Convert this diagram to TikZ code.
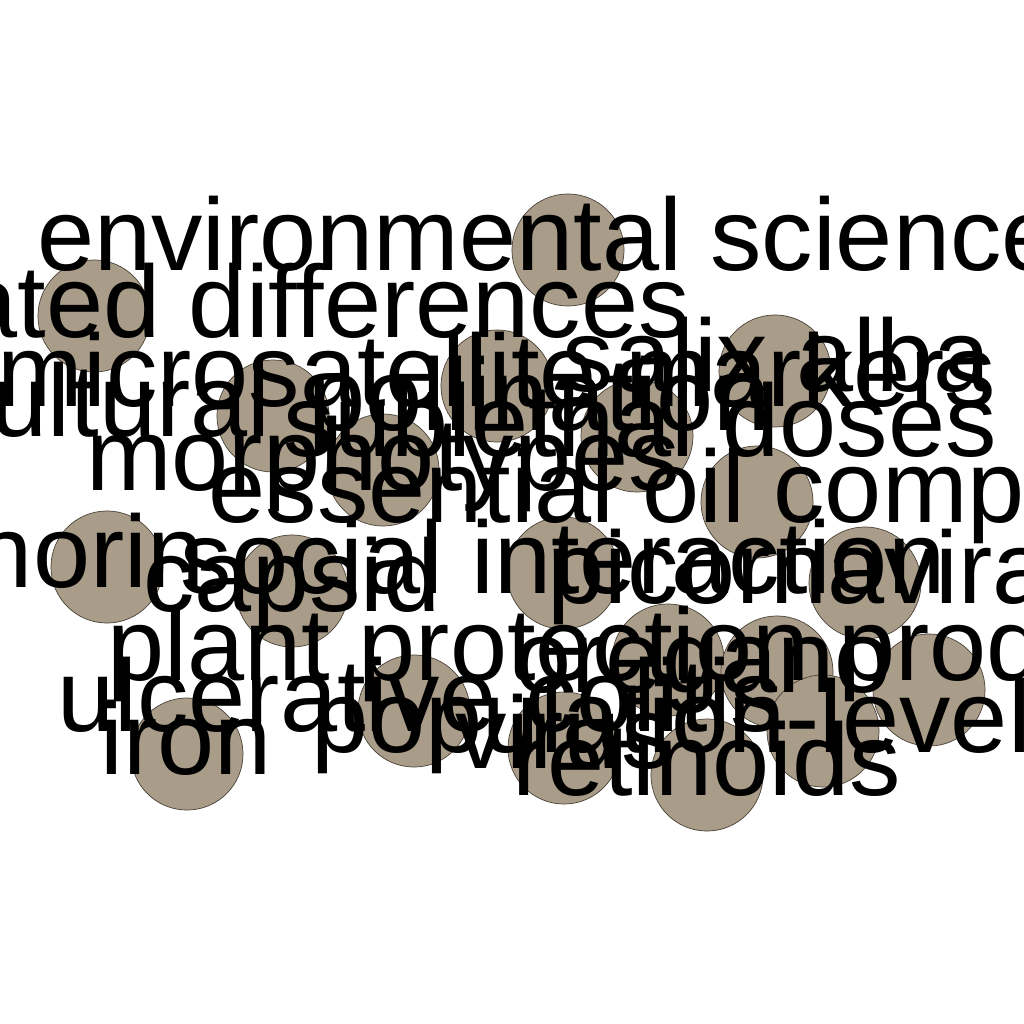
\documentclass[tikz,border=0pt]{standalone}
\usepackage{fontspec}
\setmainfont{Liberation Sans}
\begin{document}
\begin{tikzpicture}[x=0.01cm, y=-0.01cm]
    % Define colours
    \definecolor{termFill}{HTML}{A99C88}
    \definecolor{termBorder}{HTML}{4A4238}

    \tikzset{
        term/.style={circle, fill=termFill, draw=termBorder, line width=0.2pt, minimum size=1.12cm, inner sep=0pt},
        termlabel/.style={font=\fontsize{29.2pt}{30pt}\selectfont, inner sep=0pt, anchor=base}
    }

    % Fix the canvas
    \useasboundingbox (0,0) rectangle (1024,1024);
    \clip (0,0) rectangle (1024,1024);

    % Draw term circles
    \foreach \n/\cx/\cy in {1/568/250, 2/94/316, 3/497/386, 4/775/371, 5/273/416,
        6/383/470, 7/637/436, 8/757/502, 9/107/567, 10/292/591, 11/563/573,
        12/865/583, 13/668/660, 14/777/672, 15/929/690, 16/414/711, 17/187/754,
        18/564/748, 19/707/775, 20/823/731}
        \node[term] (t\n) at (\cx,\cy) {};

    % Draw term labels
    \node[termlabel] (l1) at (548,270) {environmental science};
    \node[termlabel, anchor=base west] (l2) at (-40,337) {ated differences};
    \node[termlabel] (l3) at (497,406) {microsatellite markers};
    \node[termlabel] (l4) at (777,391) {salix alba};
    \node[termlabel, anchor=base west] (l5) at (-10,436) {ultural};
    \node[termlabel] (l6) at (383,490) {morphotypes};
    \node[termlabel] (l7) at (640,456) {sublethal doses};
    \node[termlabel] (lp) at (540,430) {pollination};
    \node[termlabel, anchor=base west] (l8) at (208,522) {essential oil comp};
    \node[termlabel, anchor=base east] (l9) at (205,587) {norin};
    \node[termlabel] (l10) at (292,611) {capsid};
    \node[termlabel] (l11) at (563,593) {social interaction};
    \node[termlabel, anchor=base west] (l12) at (547,603) {picornavira};
    \node[termlabel, anchor=base west] (l13) at (107,680) {plant protection prod};
    \node[termlabel] (l14) at (703,692) {oregano};
    \node[termlabel] (l16) at (420,731) {ulcerative colitis};
    \node[termlabel] (l17) at (186,774) {iron};
    \node[termlabel] (l18) at (564,768) {virus};
    \node[termlabel] (l19) at (707,795) {retinoids};
    \node[termlabel, anchor=base west] (l20) at (311,752) {population-level};
\end{tikzpicture}
\end{document}
